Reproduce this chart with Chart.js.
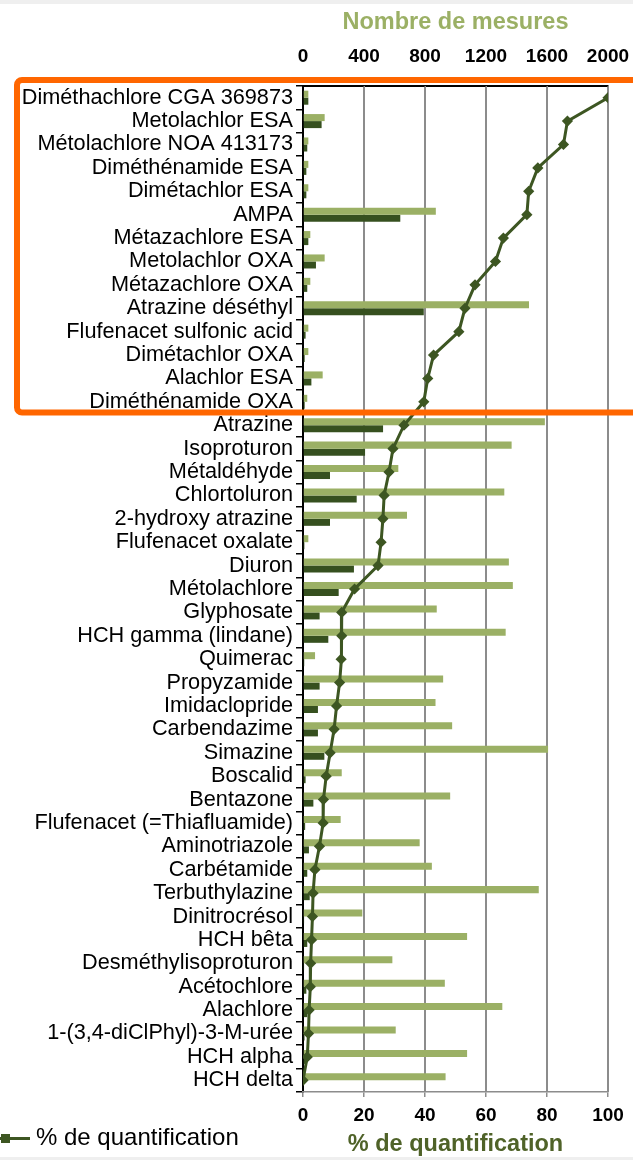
<!doctype html>
<html>
<head>
<meta charset="utf-8">
<title>Quantification</title>
<script src="https://cdn.jsdelivr.net/npm/chart.js@4.4.1/dist/chart.umd.min.js"></script>
<style>
  body { margin: 0; background: #fff; font-family: "Liberation Sans", Arial, sans-serif; }
  #wrap { position: relative; width: 633px; height: 1160px; }
  #legende { position: absolute; left: 0; top: 1123px; font-size: 24px; color: #000; white-space: nowrap; }
  #legende .trait { display: inline-block; position: relative; width: 30px; height: 3px; background: #3d5622; vertical-align: middle; margin-right: 6px; }
  #legende .trait i { position: absolute; left: 1px; top: -3px; width: 9px; height: 9px; background: #3d5622; }
  .bande { position: absolute; left: 0; width: 633px; background: #efefef; }
</style>
</head>
<body>
<div id="wrap">
  <div class="bande" style="top:0;height:4px"></div>
  <canvas id="graphique" width="633" height="1160"></canvas>
  <div id="legende"><span class="trait"><i></i></span>% de quantification</div>
  <div class="bande" style="bottom:0;height:3px"></div>
</div>

<script>
var substances = [
  "Diméthachlore CGA 369873", "Metolachlor ESA", "Métolachlore NOA 413173", "Diméthénamide ESA",
  "Dimétachlor ESA", "AMPA", "Métazachlore ESA", "Metolachlor OXA", "Métazachlore OXA",
  "Atrazine déséthyl", "Flufenacet sulfonic acid", "Dimétachlor OXA", "Alachlor ESA",
  "Diméthénamide OXA", "Atrazine", "Isoproturon", "Métaldéhyde", "Chlortoluron",
  "2-hydroxy atrazine", "Flufenacet oxalate", "Diuron", "Métolachlore", "Glyphosate",
  "HCH gamma (lindane)", "Quimerac", "Propyzamide", "Imidaclopride", "Carbendazime",
  "Simazine", "Boscalid", "Bentazone", "Flufenacet (=Thiafluamide)", "Aminotriazole",
  "Carbétamide", "Terbuthylazine", "Dinitrocrésol", "HCH bêta", "Desméthylisoproturon",
  "Acétochlore", "Alachlore", "1-(3,4-diClPhyl)-3-M-urée", "HCH alpha", "HCH delta"
];

// nombre de mesures (axe du haut)
var nb_mesures = [
  35, 142, 35, 35, 35, 871, 48, 142, 48, 1482, 35, 35, 129, 28,
  1586, 1368, 625, 1320, 682, 35, 1350, 1376, 877, 1329, 79, 919, 869, 978,
  1607, 254, 965, 247, 765, 845, 1546, 389, 1076, 586, 930, 1307, 608, 1076, 935
];

// nombre de quantifications (axe du haut)
var nb_quantif = [
  35, 122, 28, 22, 22, 638, 35, 85, 28, 792, 17, 11, 55, 11,
  525, 407, 177, 352, 177, 9, 334, 234, 109, 166, 8, 109, 98, 98,
  140, 17, 68, 14, 39, 28, 44, 7, 28, 7, 22, 28, 10, 15, 0
];

// % de quantification (axe du bas)
var pct_quantif = [
  100, 86.7, 85.4, 77.0, 74.0, 73.4, 65.7, 63.1, 56.4, 53.1, 51.1, 42.8, 40.9, 39.6,
  33.1, 29.5, 28.2, 26.6, 26.2, 25.6, 24.6, 16.9, 12.7, 12.7, 12.5, 12.0, 11.0, 10.2,
  8.9, 7.6, 6.7, 6.6, 5.4, 3.9, 3.3, 3.1, 2.8, 2.5, 2.4, 2.0, 1.8, 1.4, 0
];

var ticks_mesures = [0, 400, 800, 1200, 1600, 2000];
var ticks_pct = [0, 20, 40, 60, 80, 100];

var vert_clair = '#9bb065';
var vert_fonce = '#36501f';
var vert_ligne = '#3d5622';

var police = "'Liberation Sans', Arial, sans-serif";

// quadrillage vertical (sur les graduations de l'axe du bas)
var quadrillage = {
  id: 'quadrillage',
  beforeDatasetsDraw: function(chart) {
    var ctx = chart.ctx;
    var x = chart.scales.x;
    var zone = chart.chartArea;
    ctx.save();
    ctx.strokeStyle = '#8c8c8c';
    ctx.lineWidth = 1.5;
    x.ticks.forEach(function(t) {
      if (t.value === 0) return;
      var px = Math.round(x.getPixelForValue(t.value)) + 0.25;
      ctx.beginPath();
      ctx.moveTo(px, zone.top);
      ctx.lineTo(px, zone.bottom);
      ctx.stroke();
    });
    ctx.restore();
  }
};

// cadre orange autour des 14 premieres substances
var cadreOrange = {
  id: 'cadreOrange',
  afterDraw: function(chart) {
    var ctx = chart.ctx;
    var y = chart.scales.y;
    var haut = chart.chartArea.top - 6;
    var bas = (y.getPixelForValue(13) + y.getPixelForValue(14)) / 2 - 1;
    ctx.save();
    ctx.strokeStyle = '#ff6600';
    ctx.lineWidth = 6;
    ctx.beginPath();
    ctx.roundRect(17, haut, 640, bas - haut, 5);
    ctx.stroke();
    ctx.restore();
  }
};

function marges(s) {
  s.paddingLeft = 0;
  s.paddingRight = 25;
}

new Chart(document.getElementById("graphique"), {
  type: 'bar',
  data: {
    labels: substances,
    datasets: [
      {
        type: 'line',
        label: '% de quantification',
        data: pct_quantif,
        xAxisID: 'x',
        indexAxis: 'y',
        borderColor: vert_ligne,
        backgroundColor: vert_ligne,
        borderWidth: 3,
        pointStyle: 'rectRot',
        pointRadius: 3.5,
        pointBackgroundColor: vert_ligne,
        tension: 0,
        order: 0
      },
      {
        label: 'Nombre de mesures',
        data: nb_mesures,
        xAxisID: 'x2',
        indexAxis: 'y',
        backgroundColor: vert_clair,
        categoryPercentage: 0.6,
        barPercentage: 1.0,
        order: 1
      },
      {
        label: 'Nombre de quantifications',
        data: nb_quantif,
        xAxisID: 'x2',
        indexAxis: 'y',
        backgroundColor: vert_fonce,
        categoryPercentage: 0.6,
        barPercentage: 1.0,
        order: 1
      }
    ]
  },
  options: {
    indexAxis: 'y',
    responsive: false,
    animation: false,
    layout: { padding: { left: 0, right: 0, top: 0, bottom: 0 } },
    plugins: {
      legend: { display: false },
      tooltip: { enabled: false }
    },
    scales: {
      y: {
        type: 'category',
        offset: true,
        afterFit: function(s) { s.width = 303; },
        grid: { display: true, drawOnChartArea: false, drawTicks: true, tickLength: 7, color: '#000', lineWidth: 1.5, offset: true },
        border: { display: true, color: '#000', width: 2 },
        ticks: { autoSkip: false, color: '#000', padding: 3, font: { family: police, size: 21.7 } }
      },
      x2: {
        position: 'top',
        min: 0,
        max: 2000,
        afterBuildTicks: function(s) { s.ticks = ticks_mesures.map(function(v) { return { value: v }; }); },
        afterFit: function(s) { s.height = 86; marges(s); },
        grid: { display: true, drawOnChartArea: true, drawTicks: false, color: '#8c8c8c', lineWidth: 1.5 },
        border: { display: true, color: '#000', width: 2 },
        ticks: {
          color: '#000', padding: 18, maxRotation: 0,
          callback: function(v) { return String(v); },
          font: { family: police, size: 19, weight: 'bold' }
        },
        title: { display: true, text: 'Nombre de mesures', color: vert_clair, padding: { top: 8, bottom: 0 }, font: { family: police, size: 23.5, weight: 'bold' } }
      },
      x: {
        position: 'bottom',
        min: 0,
        max: 100,
        afterBuildTicks: function(s) { s.ticks = ticks_pct.map(function(v) { return { value: v }; }); },
        afterFit: function(s) { s.height = 68; marges(s); },
        grid: { display: true, drawOnChartArea: true, drawTicks: true, tickLength: 5, color: '#8c8c8c', lineWidth: 1.5 },
        border: { display: true, color: '#8c8c8c', width: 1.5 },
        ticks: { color: '#000', padding: 7, maxRotation: 0, font: { family: police, size: 19, weight: 'bold' } },
        title: { display: true, text: '% de quantification', color: '#4f6228', padding: { top: 0, bottom: 1 }, font: { family: police, size: 23.5, weight: 'bold' } }
      }
    }
  },
  plugins: [quadrillage, cadreOrange]
});
</script>
</body>
</html>
